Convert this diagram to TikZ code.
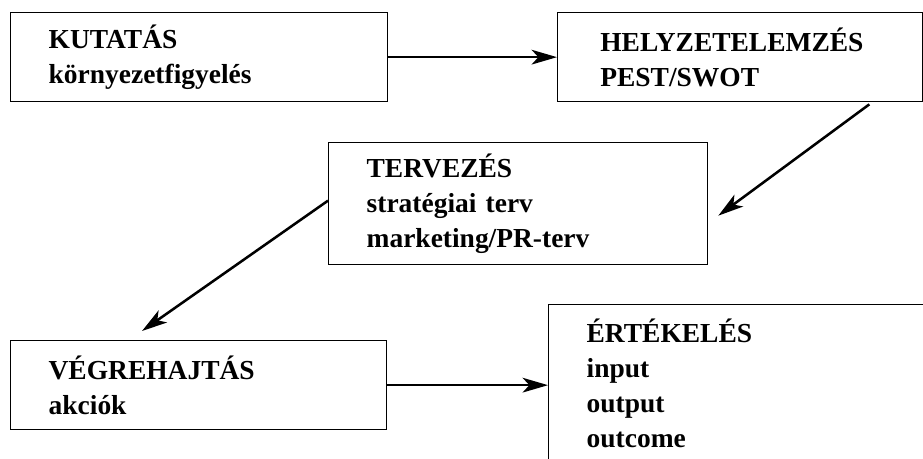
\documentclass[tikz,border=0pt]{standalone}
\usepackage{fontspec}
\setmainfont{Liberation Serif}
\usetikzlibrary{arrows.meta,calc}

\begin{document}
\begin{tikzpicture}[x=0.75pt,y=-0.75pt,
  phase/.style={draw,line width=1pt,anchor=north west,align=left,inner xsep=28.5pt,
    font=\bfseries\fontsize{20.6}{26.25}\selectfont},
  flow/.style={-{Stealth[length=19pt,width=11pt,inset=5pt]},line width=1.9pt}]
\useasboundingbox (0,0) rectangle (923,459);
\node[phase,text width=225.75pt,minimum height=66.75pt] (kutatas) at (10,12) {KUTATÁS\\környezetfigyelés};
\node[phase,inner xsep=32pt,text width=209.75pt,minimum height=66.75pt] (helyzet) at (557,12) {HELYZETELEMZÉS\\PEST/SWOT};
\node[phase,text width=227.25pt,minimum height=91.5pt] (terv) at (328,142) {TERVEZÉS\\stratégiai terv\\marketing/PR-terv};
\node[phase,text width=225pt,minimum height=66.75pt] (vegre) at (10,340) {VÉGREHAJTÁS\\akciók};
\node[phase,text width=233.25pt,minimum height=118.5pt] (ertek) at (548,304) {ÉRTÉKELÉS\\input\\output\\outcome};
% arrows between the phases
\draw [flow] (kutatas.east) -- (kutatas.east -| helyzet.west);
\draw [flow] ($(helyzet.south east)+(-54,2)$) -- ($(terv.east)+(10,12)$);
\draw [flow] ($(terv.west)+(0,-3)$) -- ($(vegre.north west)+(132,-9)$);
\draw [flow] (vegre.east) -- (vegre.east -| ertek.west);
\end{tikzpicture}
\end{document}
